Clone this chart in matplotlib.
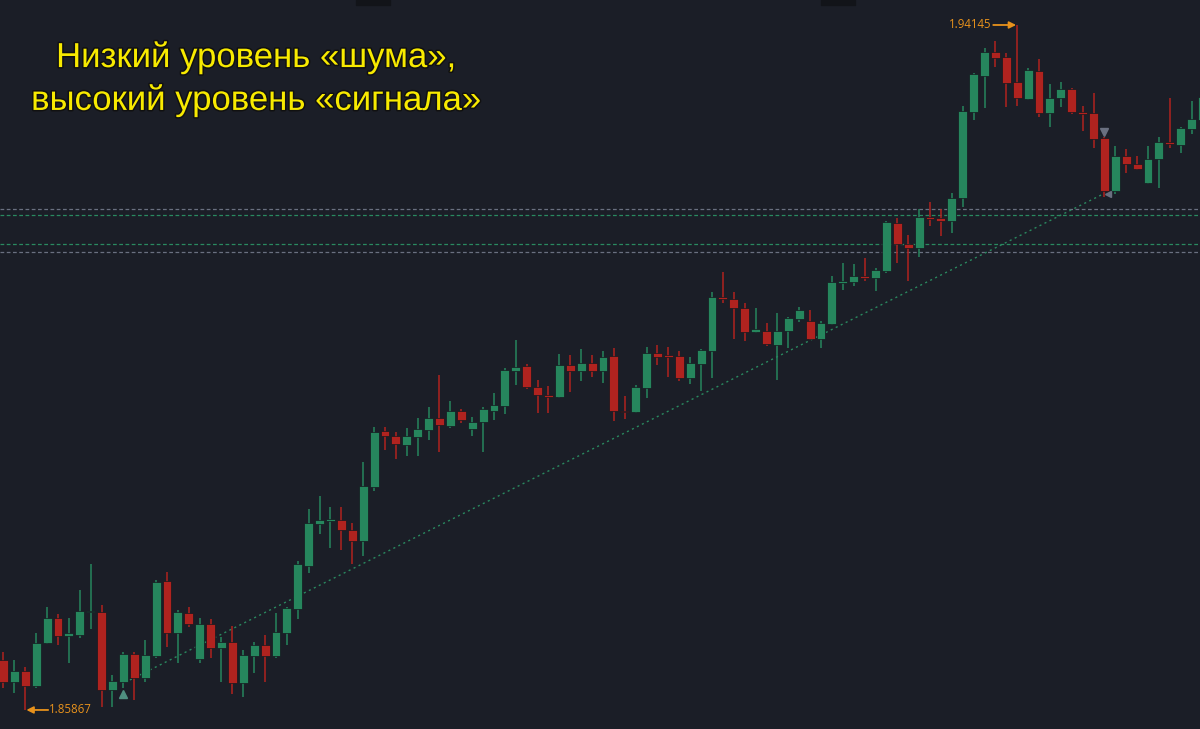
import numpy as np
import matplotlib
matplotlib.use('Agg')
import matplotlib.pyplot as plt
import matplotlib.patheffects as pe
from matplotlib.patches import Rectangle

# OHLC (candle index 0..110, left to right)
opens = [
    1.86471, 1.86205, 1.86338, 1.86157, 1.86677, 1.86979, 1.86761, 1.86773, 1.87051, 1.87051,
    1.86109, 1.86205, 1.86544, 1.86254, 1.86520, 1.87426, 1.86798, 1.87039, 1.86483, 1.86906,
    1.86616, 1.86689, 1.86193, 1.86520, 1.86653, 1.86520, 1.86798, 1.87088, 1.87607, 1.88115,
    1.88151, 1.88163, 1.88042, 1.87909, 1.88562, 1.89239, 1.89178, 1.89070, 1.89166, 1.89251,
    1.89396, 1.89299, 1.89480, 1.89263, 1.89348, 1.89480, 1.89541, 1.89964, 1.90024, 1.89771,
    1.89674, 1.89650, 1.90036, 1.89964, 1.90061, 1.89964, 1.90145, 1.89480, 1.89468, 1.89758,
    1.90181, 1.90145, 1.90145, 1.89879, 1.90049, 1.90206, 1.90858, 1.90834, 1.90725, 1.90435,
    1.90447, 1.90278, 1.90447, 1.90592, 1.90568, 1.90351, 1.90532, 1.91027, 1.91039, 1.91112,
    1.91088, 1.91172, 1.91752, 1.91499, 1.91450, 1.91825, 1.91813, 1.91777, 1.92055, 1.93094,
    1.93529, 1.93819, 1.93759, 1.93456, 1.93251, 1.93589, 1.93082, 1.93263, 1.93372, 1.93094,
    1.93082, 1.92780, 1.92139, 1.92562, 1.92466, 1.92236, 1.92526, 1.92731, 1.92695, 1.92888,
    1.92997,
]
highs = [
    1.86568, 1.86471, 1.86387, 1.86798, 1.87112, 1.87027, 1.86979, 1.87317, 1.87632, 1.87136,
    1.86290, 1.86568, 1.86568, 1.86713, 1.87438, 1.87535, 1.87076, 1.87112, 1.86979, 1.86967,
    1.86749, 1.86882, 1.86592, 1.86689, 1.86773, 1.87039, 1.87112, 1.87668, 1.88296, 1.88453,
    1.88320, 1.88320, 1.88127, 1.88864, 1.89287, 1.89287, 1.89227, 1.89275, 1.89396, 1.89529,
    1.89916, 1.89601, 1.89505, 1.89408, 1.89529, 1.89698, 1.90000, 1.90339, 1.90049, 1.89855,
    1.89783, 1.90169, 1.90157, 1.90230, 1.90157, 1.90206, 1.90242, 1.89662, 1.89795, 1.90254,
    1.90278, 1.90254, 1.90206, 1.90133, 1.90230, 1.90919, 1.91160, 1.90919, 1.90786, 1.90725,
    1.90544, 1.90665, 1.90616, 1.90737, 1.90701, 1.90568, 1.91112, 1.91269, 1.91257, 1.91329,
    1.91209, 1.91777, 1.91813, 1.91607, 1.91922, 1.92006, 1.91922, 1.92115, 1.93166, 1.93565,
    1.93867, 1.93952, 1.93807, 1.94145, 1.93626, 1.93734, 1.93432, 1.93456, 1.93384, 1.93166,
    1.93323, 1.92792, 1.92683, 1.92647, 1.92562, 1.92683, 1.92792, 1.93263, 1.92913, 1.93227,
    1.93299,
]
lows = [
    1.86133, 1.86072, 1.85867, 1.86133, 1.86665, 1.86653, 1.86435, 1.86737, 1.86846, 1.85903,
    1.85903, 1.86133, 1.85988, 1.86205, 1.86495, 1.86628, 1.86435, 1.86870, 1.86435, 1.86495,
    1.86205, 1.86060, 1.86024, 1.86314, 1.86205, 1.86495, 1.86653, 1.86967, 1.87523, 1.87994,
    1.87825, 1.87801, 1.87632, 1.87728, 1.88514, 1.89009, 1.88900, 1.88937, 1.88937, 1.89130,
    1.88985, 1.89275, 1.89335, 1.89178, 1.88985, 1.89372, 1.89444, 1.89795, 1.89746, 1.89456,
    1.89456, 1.89638, 1.89710, 1.89843, 1.89891, 1.89819, 1.89360, 1.89384, 1.89456, 1.89638,
    1.90036, 1.89891, 1.89843, 1.89807, 1.89722, 1.89879, 1.90786, 1.90351, 1.90326, 1.90423,
    1.90266, 1.89855, 1.90242, 1.90556, 1.90339, 1.90242, 1.90520, 1.90943, 1.90991, 1.91052,
    1.90931, 1.91148, 1.91269, 1.91052, 1.91342, 1.91716, 1.91595, 1.91632, 1.91946, 1.92997,
    1.93142, 1.93638, 1.93154, 1.93166, 1.93239, 1.93033, 1.92913, 1.93154, 1.93070, 1.92864,
    1.92659, 1.92067, 1.92103, 1.92357, 1.92393, 1.92224, 1.92175, 1.92659, 1.92598, 1.92828,
    1.92937,
]
closes = [
    1.86205, 1.86338, 1.86157, 1.86677, 1.86979, 1.86761, 1.86798, 1.87063, 1.87063, 1.86109,
    1.86218, 1.86544, 1.86254, 1.86532, 1.87414, 1.86798, 1.87051, 1.86906, 1.86906, 1.86616,
    1.86689, 1.86193, 1.86532, 1.86653, 1.86520, 1.86810, 1.87100, 1.87632, 1.88127, 1.88163,
    1.88163, 1.88042, 1.87909, 1.88574, 1.89227, 1.89178, 1.89082, 1.89178, 1.89263, 1.89396,
    1.89311, 1.89480, 1.89372, 1.89348, 1.89505, 1.89553, 1.89976, 1.90012, 1.89771, 1.89674,
    1.89650, 1.90036, 1.89964, 1.90061, 1.89964, 1.90133, 1.89480, 1.89468, 1.89771, 1.90181,
    1.90133, 1.90133, 1.89879, 1.90061, 1.90218, 1.90858, 1.90834, 1.90725, 1.90435, 1.90471,
    1.90290, 1.90447, 1.90604, 1.90701, 1.90351, 1.90544, 1.91039, 1.91052, 1.91112, 1.91088,
    1.91184, 1.91765, 1.91499, 1.91450, 1.91825, 1.91801, 1.91777, 1.92055, 1.93106, 1.93553,
    1.93819, 1.93746, 1.93444, 1.93263, 1.93601, 1.93082, 1.93263, 1.93372, 1.93094, 1.93070,
    1.92768, 1.92139, 1.92562, 1.92466, 1.92405, 1.92526, 1.92731, 1.92707, 1.92900, 1.93009,
    1.93275,
]

# horizontal zone lines
zone_grey = [1.91922, 1.91402]
zone_green = [1.91849, 1.91499]

# trend line from (index, price) to (index, price)
trend_x = [11.6, 100.9]
trend_y = [1.86230, 1.92103]

max_idx, max_price = 93, 1.94145
min_idx, min_price = 2, 1.85867

title = 'Низкий уровень «шума»,\nвысокий уровень «сигнала»'

bg = '#1b1e27'
up_col = '#26865d'
down_col = '#b0231f'
label_col = '#e8921c'

fig = plt.figure(figsize=(12, 7.29), dpi=100)
fig.patch.set_facecolor(bg)
ax = fig.add_axes([0, 0, 1, 1])
ax.set_facecolor(bg)

x = np.arange(len(opens))
o = np.array(opens)
h = np.array(highs)
l = np.array(lows)
c = np.array(closes)
colors = [up_col if cc >= oo else down_col for oo, cc in zip(o, c)]

# wicks
ax.vlines(x, l, h, colors=colors, linewidth=1.1, zorder=2)
# bodies
bottom = np.minimum(o, c)
height = np.maximum(np.abs(c - o), 0.00018)
ax.bar(x, height, width=0.82, bottom=bottom, color=colors,
       edgecolor='#15181f', linewidth=0.5, zorder=3)

# zone lines
for yv in zone_grey:
    ax.axhline(yv, color='#6a7080', linestyle=(0, (3, 2)), linewidth=0.9, zorder=1)
for yv in zone_green:
    ax.axhline(yv, color='#2a8a60', linestyle=(0, (3, 2)), linewidth=0.9, zorder=1)

# trend line
ax.plot(trend_x, trend_y, color='#2a8a60', linestyle=(0, (1.5, 2.5)),
        linewidth=1.0, zorder=1)

# small markers
ax.plot([11], [lows[11] - 0.00075], marker='^', color='#4f8f80', markersize=6, zorder=4)
ax.plot([101], [highs[101] + 0.00060], marker='v', color='#6a7080', markersize=6, zorder=4)
ax.plot([101.3], [trend_y[1]], marker='<', color='#6a7080', markersize=5, zorder=4)

# max / min labels
ax.annotate('', xy=(max_idx - 0.1, max_price), xytext=(max_idx - 2.2, max_price),
            arrowprops=dict(arrowstyle='-|>', color=label_col, lw=1.3,
                            mutation_scale=10, shrinkA=0, shrinkB=0))
ax.text(max_idx - 2.35, max_price, '1.94145', color=label_col, fontsize=8.3,
        ha='right', va='center', family='Open Sans')
ax.annotate('', xy=(min_idx + 0.1, min_price), xytext=(min_idx + 2.1, min_price),
            arrowprops=dict(arrowstyle='-|>', color=label_col, lw=1.3,
                            mutation_scale=10, shrinkA=0, shrinkB=0))
ax.text(min_idx + 2.2, min_price, '1.85867', color=label_col, fontsize=8.3,
        ha='left', va='center', family='Open Sans')

ax.set_xlim(-0.32, 109.77)
ax.set_ylim(1.85637, 1.94447)
ax.axis('off')

# UI remnants at the top edge
fig.patches.append(Rectangle((356 / 1200, 1 - 5 / 729), 34 / 1200, 5 / 729,
                             transform=fig.transFigure, color='#121419', zorder=0))
fig.patches.append(Rectangle((821 / 1200, 1 - 5 / 729), 34 / 1200, 5 / 729,
                             transform=fig.transFigure, color='#121419', zorder=0))

fig.text(256 / 1200, 1 - 79 / 729, title, color='#f8ea00', fontsize=25,
         family='Liberation Sans', ha='center', va='center', linespacing=1.38,
         path_effects=[pe.withStroke(linewidth=2.2, foreground='#111111')])

fig.savefig('out.png', dpi=100, facecolor=bg)
